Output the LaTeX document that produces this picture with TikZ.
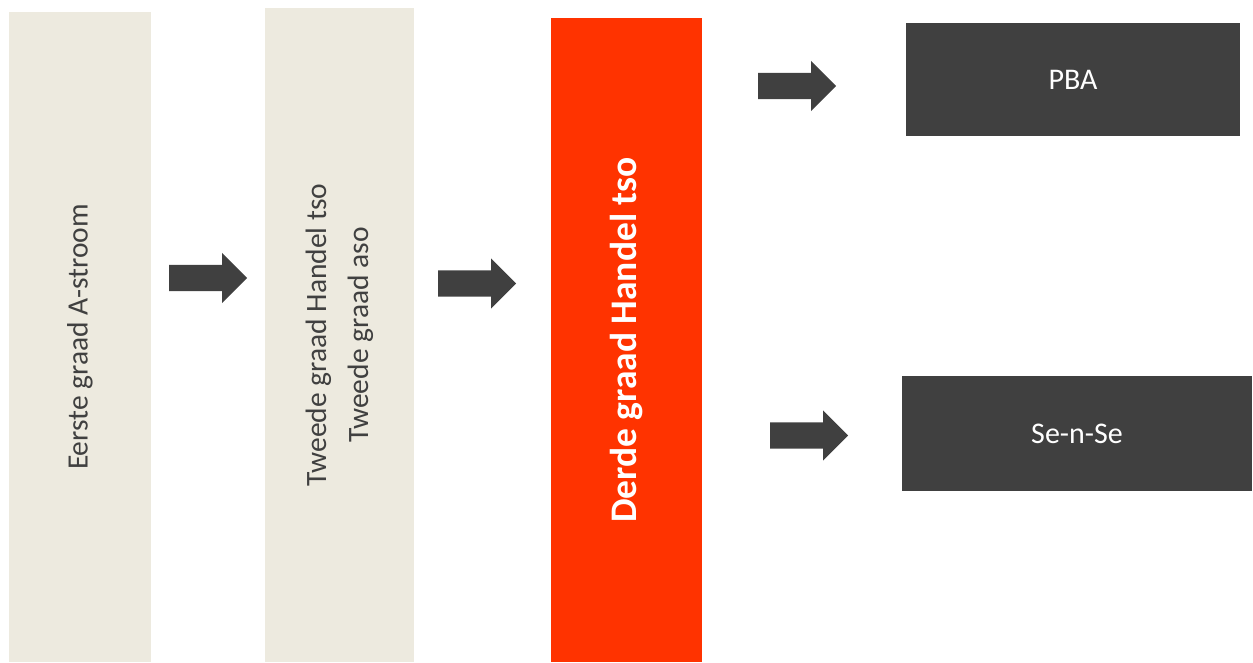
\documentclass[tikz,border=0pt]{standalone}
\usepackage{fontspec}
\setmainfont{Carlito}
\usepackage{xcolor}
\usetikzlibrary{shapes.arrows}

\definecolor{beige}{HTML}{EDEADF}
\definecolor{oranjerood}{HTML}{FF3300}
\definecolor{donker}{HTML}{404040}

\begin{document}
\begin{tikzpicture}[x=1pt,y=-1pt,
  graad/.style={rectangle, fill=beige, text=donker, rotate=90, align=center, inner sep=0pt, font=\fontsize{29.5}{42}\selectfont},
  uitweg/.style={rectangle, fill=donker, text=white, inner sep=0pt, font=\fontsize{30}{36}\selectfont},
  pijl/.style={single arrow, fill=donker, inner sep=0pt, inner ysep=13pt, single arrow head extend=12pt, minimum height=78pt, anchor=tail}]
  \useasboundingbox (0,0) rectangle (1253,662);
		%\small
  \node[graad, minimum width=650, minimum height=142] (a) at (80,337) {Eerste graad A-stroom};
  \node[graad, minimum width=654, minimum height=149] (b) at (339.5,335) {Tweede graad Handel tso\\Tweede graad aso};
  \node[graad, fill=oranjerood, text=white, minimum width=644, minimum height=151, font=\fontsize{37.5}{44}\selectfont\bfseries] (c) at (626.5,340) {Derde graad Handel tso};

  \node[uitweg, minimum width=334, minimum height=113] (d) at (1073,79.5) {PBA};
  \node[uitweg, minimum width=350, minimum height=115] (e) at (1077,433.5) {Se-n-Se};

  \node[pijl] (p1) at (169,278) {};
  \node[pijl] (p2) at (438,283.5) {};
  \node[pijl] (p3) at (758,86) {};
  \node[pijl] (p4) at (770,435.5) {};

\end{tikzpicture}
\end{document}
